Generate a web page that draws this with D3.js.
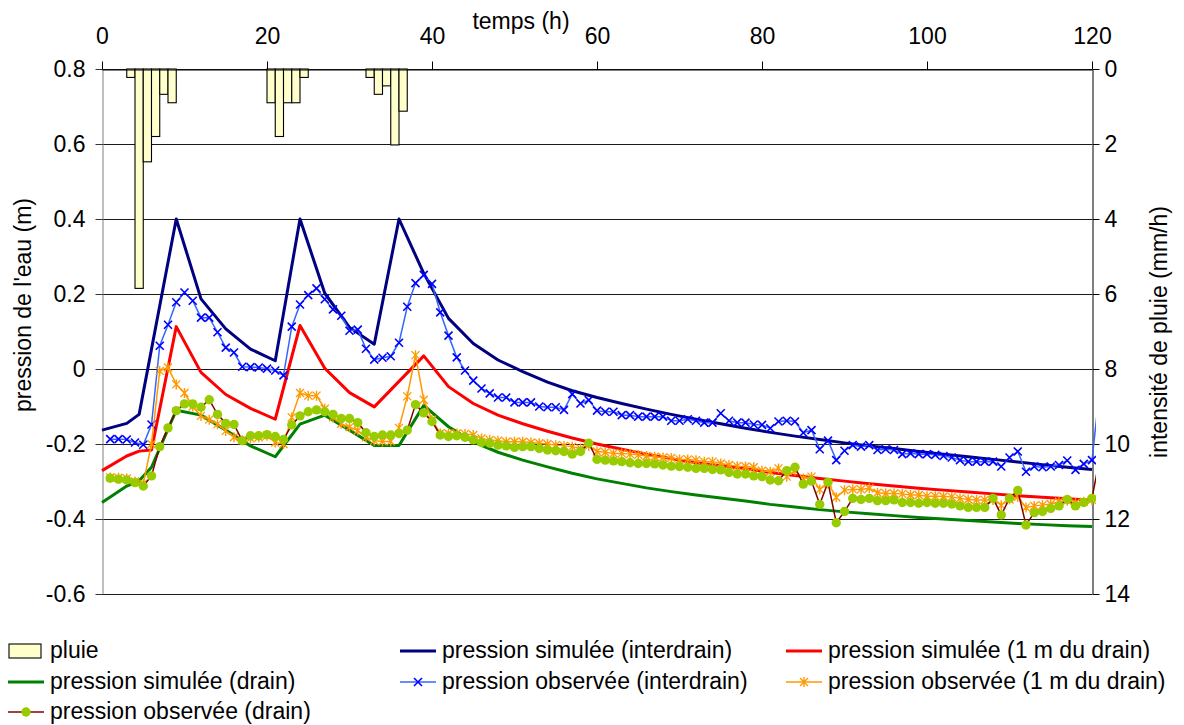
<!DOCTYPE html>
<html>
<head>
<meta charset="utf-8">
<script src="https://cdn.jsdelivr.net/npm/d3@7"></script>
<style>
  body { margin: 0; background: #fff; }
  text { font-family: "Liberation Sans", Arial, sans-serif; fill: #000; }
</style>
</head>
<body>
<svg id="chart" width="1184" height="725"></svg>
<script>
// ---- Rain (mm/h), hourly bars starting at these hours ----
const rainStart = [3, 4, 5, 6, 7, 8, 20, 21, 22, 23, 24, 32, 33, 34, 35, 36];
const rainMmH   = [0.225, 5.85, 2.475, 1.8, 0.675, 0.9, 0.9, 1.8, 0.9, 0.9, 0.225, 0.225, 0.675, 0.45, 2.025, 1.125];

// ---- Simulated pressure heads (m) ----
const simTimes = [0, 3, 4.5, 6, 9, 12, 15, 18, 21, 24, 27, 30, 33, 36, 39, 42, 45, 48, 51, 54, 57, 60,
  63, 66, 69, 72, 75, 78, 81, 84, 87, 90, 93, 96, 99, 102, 105, 108, 111, 114, 117, 120];
const simInterdrain = [-0.163, -0.145, -0.121, 0.053, 0.40, 0.187, 0.107, 0.053, 0.022, 0.40, 0.202, 0.111,
  0.066, 0.40, 0.255, 0.135, 0.068, 0.024, -0.007, -0.035, -0.058, -0.076, -0.092, -0.107, -0.121, -0.134,
  -0.146, -0.158, -0.169, -0.179, -0.188, -0.197, -0.205, -0.212, -0.220, -0.227, -0.234, -0.241, -0.248,
  -0.255, -0.262, -0.268];
const sim1m = [-0.271, -0.232, -0.219, -0.216, 0.113, -0.009, -0.068, -0.105, -0.134, 0.116, 0.002, -0.063,
  -0.101, -0.033, 0.035, -0.047, -0.092, -0.123, -0.146, -0.166, -0.184, -0.200, -0.214, -0.227, -0.239,
  -0.250, -0.258, -0.266, -0.276, -0.284, -0.292, -0.299, -0.306, -0.312, -0.318, -0.323, -0.328, -0.333,
  -0.338, -0.342, -0.346, -0.350];
const simDrain = [-0.356, -0.312, -0.298, -0.262, -0.110, -0.123, -0.163, -0.205, -0.234, -0.147, -0.123,
  -0.163, -0.204, -0.204, -0.097, -0.154, -0.194, -0.222, -0.243, -0.261, -0.278, -0.293, -0.305, -0.317,
  -0.327, -0.336, -0.344, -0.352, -0.361, -0.368, -0.375, -0.381, -0.386, -0.391, -0.396, -0.400, -0.404,
  -0.408, -0.412, -0.415, -0.418, -0.420];

// ---- Observed pressure heads (m), one reading per hour from t = 1 h ----
const obsTimes = d3.range(1, 122);
const obsInterdrain = [-0.187, -0.187, -0.188, -0.196, -0.202, -0.148, 0.062, 0.118, 0.178, 0.204,
  0.182, 0.137, 0.137, 0.098, 0.057, 0.044, 0.006, 0.005, 0.004, 0.001,
  -0.004, -0.017, 0.113, 0.172, 0.197, 0.215, 0.186, 0.159, 0.142, 0.102,
  0.105, 0.054, 0.025, 0.030, 0.034, 0.070, 0.166, 0.229, 0.251, 0.227,
  0.151, 0.089, 0.031, -0.004, -0.031, -0.052, -0.065, -0.076, -0.076, -0.089,
  -0.089, -0.089, -0.100, -0.102, -0.102, -0.109, -0.067, -0.092, -0.083, -0.111,
  -0.114, -0.114, -0.123, -0.123, -0.127, -0.127, -0.127, -0.127, -0.138, -0.138,
  -0.134, -0.138, -0.143, -0.143, -0.118, -0.138, -0.143, -0.143, -0.148, -0.149,
  -0.158, -0.140, -0.138, -0.140, -0.170, -0.163, -0.214, -0.191, -0.243, -0.218,
  -0.203, -0.207, -0.203, -0.216, -0.214, -0.216, -0.227, -0.225, -0.227, -0.227,
  -0.229, -0.232, -0.236, -0.243, -0.247, -0.247, -0.247, -0.247, -0.260, -0.236,
  -0.220, -0.274, -0.260, -0.262, -0.260, -0.256, -0.244, -0.269, -0.253, -0.243,
  -0.040];
const obs1m = [-0.289, -0.290, -0.292, -0.300, -0.306, -0.200, -0.005, 0.004, -0.041, -0.064,
  -0.100, -0.125, -0.135, -0.147, -0.165, -0.182, -0.190, -0.185, -0.182, -0.178,
  -0.196, -0.200, -0.129, -0.064, -0.071, -0.071, -0.106, -0.129, -0.146, -0.155,
  -0.164, -0.182, -0.191, -0.193, -0.193, -0.157, -0.073, 0.037, -0.082, -0.135,
  -0.172, -0.172, -0.172, -0.173, -0.176, -0.185, -0.189, -0.191, -0.194, -0.194,
  -0.194, -0.196, -0.198, -0.200, -0.203, -0.205, -0.207, -0.212, -0.205, -0.220,
  -0.222, -0.225, -0.225, -0.227, -0.229, -0.232, -0.234, -0.236, -0.237, -0.241,
  -0.241, -0.243, -0.247, -0.247, -0.252, -0.256, -0.259, -0.260, -0.262, -0.271,
  -0.274, -0.265, -0.287, -0.271, -0.292, -0.287, -0.321, -0.305, -0.342, -0.323,
  -0.321, -0.321, -0.318, -0.330, -0.332, -0.332, -0.333, -0.336, -0.336, -0.339,
  -0.339, -0.340, -0.341, -0.345, -0.348, -0.349, -0.349, -0.349, -0.363, -0.348,
  -0.341, -0.369, -0.365, -0.363, -0.360, -0.354, -0.351, -0.358, -0.354, -0.349];
const obsDrain = [-0.291, -0.294, -0.296, -0.303, -0.312, -0.285, -0.207, -0.157, -0.111, -0.093,
  -0.093, -0.102, -0.082, -0.121, -0.145, -0.148, -0.191, -0.178, -0.178, -0.175,
  -0.180, -0.188, -0.149, -0.125, -0.114, -0.109, -0.114, -0.121, -0.132, -0.132,
  -0.143, -0.170, -0.180, -0.176, -0.176, -0.172, -0.163, -0.095, -0.117, -0.140,
  -0.176, -0.180, -0.178, -0.182, -0.189, -0.196, -0.198, -0.203, -0.205, -0.209,
  -0.207, -0.207, -0.212, -0.216, -0.218, -0.220, -0.227, -0.220, -0.198, -0.241,
  -0.243, -0.245, -0.247, -0.250, -0.252, -0.252, -0.253, -0.256, -0.259, -0.260,
  -0.262, -0.265, -0.265, -0.268, -0.269, -0.276, -0.280, -0.280, -0.285, -0.287,
  -0.296, -0.298, -0.271, -0.262, -0.307, -0.299, -0.361, -0.302, -0.410, -0.380,
  -0.345, -0.348, -0.345, -0.351, -0.351, -0.349, -0.356, -0.356, -0.358, -0.356,
  -0.358, -0.358, -0.360, -0.365, -0.369, -0.369, -0.369, -0.345, -0.389, -0.345,
  -0.324, -0.416, -0.383, -0.380, -0.372, -0.365, -0.348, -0.365, -0.356, -0.345,
  -0.230];

// ---- Axis ticks and labels ----
const timeTicks = [0, 20, 40, 60, 80, 100, 120];
const pressureTicks = [0.8, 0.6, 0.4, 0.2, 0, -0.2, -0.4, -0.6];
const rainTicks = [0, 2, 4, 6, 8, 10, 12, 14];
const xTitle = "temps (h)";
const yTitle = "pression de l'eau (m)";
const y2Title = "intensité de pluie (mm/h)";

// ---- Layout ----
const FS = 23;
const plot = { left: 102, right: 1092, top: 69, bottom: 594 };
const svg = d3.select("#chart");

const x = d3.scaleLinear().domain([0, 120]).range([plot.left, plot.right]);
const y = d3.scaleLinear().domain([-0.6, 0.8]).range([plot.bottom, plot.top]);
const yRain = d3.scaleLinear().domain([0, 14]).range([plot.top, plot.bottom]);

// plain hyphen for negatives, one decimal
const fmt = d => (d === 0 ? "0" : d.toFixed(1));

// horizontal gridlines
svg.append("g").selectAll("line").data(pressureTicks).join("line")
  .attr("x1", plot.left).attr("x2", plot.right)
  .attr("y1", d => Math.round(y(d)) + 0.5).attr("y2", d => Math.round(y(d)) + 0.5)
  .attr("stroke", "#1a1a1a").attr("stroke-width", 1);

// rain bars hanging from the top
svg.append("g").selectAll("rect").data(rainStart.map((t, i) => ({ t, v: rainMmH[i] }))).join("rect")
  .attr("x", d => x(d.t)).attr("width", d => x(d.t + 1) - x(d.t))
  .attr("y", yRain(0)).attr("height", d => yRain(d.v) - yRain(0))
  .attr("fill", "#FFFFCC").attr("stroke", "#000").attr("stroke-width", 1.1);

// left axis
const gL = svg.append("g").attr("transform", `translate(${plot.left + 0.5},0)`)
  .call(d3.axisLeft(y).tickValues(pressureTicks).tickFormat(fmt).tickSize(7).tickPadding(10).tickSizeOuter(0));
gL.select(".domain").attr("stroke", "#808080");
gL.selectAll(".tick line").attr("stroke", "#333");
gL.selectAll("text").attr("font-size", FS).attr("font-family", "Liberation Sans, Arial, sans-serif");

// right axis (rain intensity)
const gR = svg.append("g").attr("transform", `translate(${plot.right + 0.5},0)`)
  .call(d3.axisRight(yRain).tickValues(rainTicks).tickSize(7).tickPadding(5).tickSizeOuter(0));
gR.select(".domain").attr("stroke", "#000");
gR.selectAll(".tick line").attr("stroke", "#000");
gR.selectAll("text").attr("font-size", FS).attr("font-family", "Liberation Sans, Arial, sans-serif");

// top axis (time)
const gT = svg.append("g").attr("transform", `translate(0,${plot.top + 0.5})`)
  .call(d3.axisTop(x).tickValues(timeTicks).tickSize(8).tickPadding(18).tickSizeOuter(0));
gT.select(".domain").attr("stroke", "#000");
gT.selectAll("text").attr("font-size", FS).attr("font-family", "Liberation Sans, Arial, sans-serif");

// axis titles
svg.append("text").attr("x", 521).attr("y", 29).attr("text-anchor", "middle")
  .attr("font-size", FS).text(xTitle);
svg.append("text").attr("transform", "translate(31,305) rotate(-90)").attr("text-anchor", "middle")
  .attr("font-size", FS).text(yTitle);
svg.append("text").attr("transform", "translate(1167,332) rotate(-90)").attr("text-anchor", "middle")
  .attr("font-size", FS).text(y2Title);

// clip for series
svg.append("clipPath").attr("id", "plotClip").append("rect")
  .attr("x", plot.left - 2).attr("y", 40).attr("width", plot.right - plot.left + 6).attr("height", 600);

const layer = svg.append("g").attr("clip-path", "url(#plotClip)");
const line = d3.line().x(d => x(d[0])).y(d => y(d[1]));
const zipT = (ts, vs) => vs.map((v, i) => [ts[i], v]);

// simulated curves
const sims = [
  { v: simInterdrain, c: "#000080" },
  { v: sim1m, c: "#FF0000" },
  { v: simDrain, c: "#008000" }
];
sims.forEach(s => {
  layer.append("path").attr("d", line(zipT(simTimes, s.v)))
    .attr("fill", "none").attr("stroke", s.c).attr("stroke-width", 3).attr("stroke-linejoin", "round");
});

// marker shapes
const crossPath = "M-4,-4L4,4M-4,4L4,-4";
const starPath = "M-4,-4L4,4M-4,4L4,-4M0,-5L0,5";

// observed: interdrain
const oI = zipT(obsTimes, obsInterdrain);
layer.append("path").attr("d", line(oI)).attr("fill", "none").attr("stroke", "#3366FF").attr("stroke-width", 1.5);
layer.append("g").selectAll("path").data(oI.filter(d => d[0] <= 120)).join("path")
  .attr("transform", d => `translate(${x(d[0])},${y(d[1])})`)
  .attr("d", crossPath).attr("stroke", "#0000FF").attr("stroke-width", 1.6).attr("fill", "none");

// observed: 1 m from drain
const o1 = zipT(obsTimes, obs1m);
layer.append("path").attr("d", line(o1)).attr("fill", "none").attr("stroke", "#FF9900").attr("stroke-width", 1.5);
layer.append("g").selectAll("path").data(o1).join("path")
  .attr("transform", d => `translate(${x(d[0])},${y(d[1])})`)
  .attr("d", starPath).attr("stroke", "#FF9900").attr("stroke-width", 1.4).attr("fill", "none");

// observed: drain
const oD = zipT(obsTimes, obsDrain);
layer.append("path").attr("d", line(oD)).attr("fill", "none").attr("stroke", "#800000").attr("stroke-width", 1.5);
layer.append("g").selectAll("circle").data(oD.filter(d => d[0] <= 120)).join("circle")
  .attr("cx", d => x(d[0])).attr("cy", d => y(d[1])).attr("r", 4.7).attr("fill", "#99CC00");

// ---- Legend ----
const legendItems = [
  { label: "pluie", type: "bar", col: 0, row: 0 },
  { label: "pression simulée (interdrain)", type: "line", c: "#000080", col: 1, row: 0 },
  { label: "pression simulée (1 m du drain)", type: "line", c: "#FF0000", col: 2, row: 0 },
  { label: "pression simulée (drain)", type: "line", c: "#008000", col: 0, row: 1 },
  { label: "pression observée (interdrain)", type: "cross", c: "#3366FF", m: "#0000FF", col: 1, row: 1 },
  { label: "pression observée (1 m du drain)", type: "star", c: "#FF9900", m: "#FF9900", col: 2, row: 1 },
  { label: "pression observée (drain)", type: "dot", c: "#800000", m: "#99CC00", col: 0, row: 2 }
];
const colX = [8, 400, 786];
const rowY = [651, 682, 712];
const leg = svg.append("g");
legendItems.forEach(it => {
  const g = leg.append("g").attr("transform", `translate(${colX[it.col]},${rowY[it.row]})`);
  if (it.type === "bar") {
    g.append("rect").attr("x", 1).attr("y", -7).attr("width", 32).attr("height", 14)
      .attr("fill", "#FFFFCC").attr("stroke", "#000").attr("stroke-width", 1.1);
  } else {
    g.append("line").attr("x1", 0).attr("x2", 36).attr("y1", 0).attr("y2", 0)
      .attr("stroke", it.c).attr("stroke-width", it.type === "line" ? 3 : 1.5);
    if (it.type === "cross") g.append("path").attr("transform", "translate(18,0)").attr("d", crossPath)
      .attr("stroke", it.m).attr("stroke-width", 1.6).attr("fill", "none");
    if (it.type === "star") g.append("path").attr("transform", "translate(18,0)").attr("d", starPath)
      .attr("stroke", it.m).attr("stroke-width", 1.4).attr("fill", "none");
    if (it.type === "dot") g.append("circle").attr("cx", 18).attr("cy", 0).attr("r", 4.7).attr("fill", it.m);
  }
  g.append("text").attr("x", 42).attr("y", 7).attr("font-size", FS).text(it.label);
});
</script>
</body>
</html>
